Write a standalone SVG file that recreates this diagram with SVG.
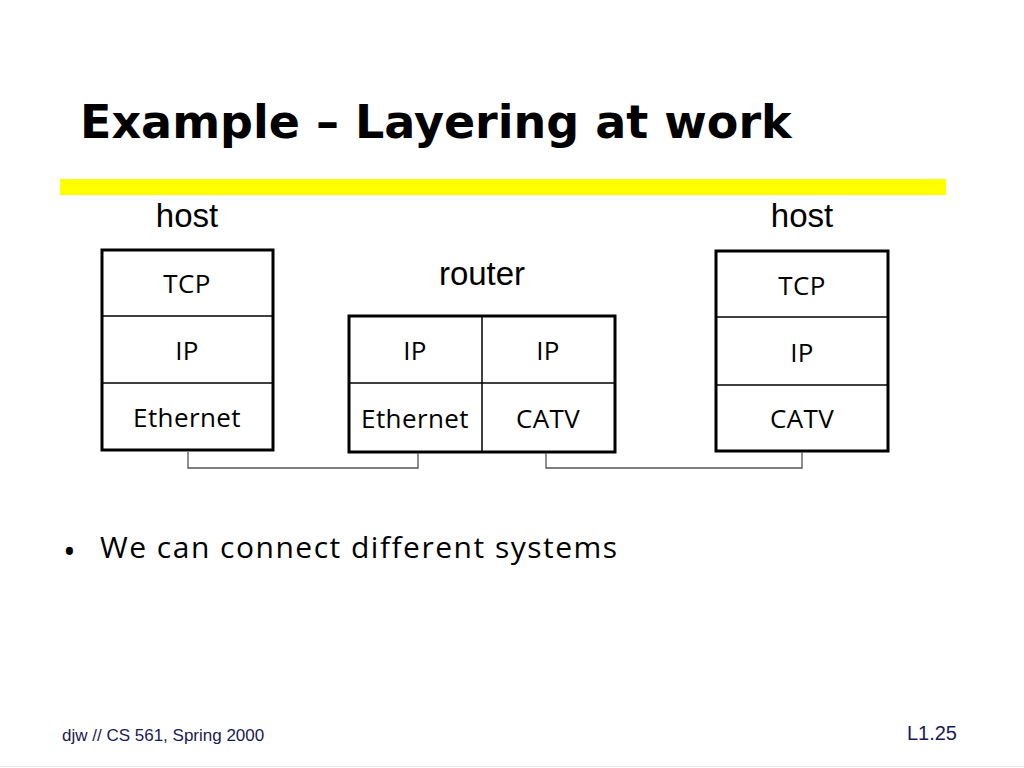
<svg xmlns="http://www.w3.org/2000/svg" width="1024" height="768" viewBox="0 0 1024 768">
<style>
.box{fill:#fff;stroke:#000;stroke-width:3}
.div{stroke:#000;stroke-width:1.5;fill:none}
.lbl{font-family:"Open Sans","Noto Sans",sans-serif;font-size:26px;letter-spacing:0.4px;fill:#000;text-anchor:middle}
.cap{font-family:"Liberation Sans",Arial,sans-serif;font-size:33px;fill:#000;text-anchor:middle}
.conn{stroke:#555;stroke-width:1.3;fill:none}
.foot{font-family:"Liberation Sans",Arial,sans-serif;fill:#1a1a55}
</style>
<rect width="1024" height="768" fill="#fff"/>
<text x="80" y="138" font-family="DejaVu Sans,Verdana,sans-serif" font-weight="bold" font-size="46" fill="#000">Example – Layering at work</text>
<rect x="60" y="179" width="886" height="16" fill="#ffff00"/>
<g id="host-left">
<text class="cap" x="187" y="227">host</text>
<rect class="box" x="102" y="250" width="171" height="200"/>
<line class="div" x1="102" y1="316" x2="273" y2="316"/>
<line class="div" x1="102" y1="383" x2="273" y2="383"/>
<text class="lbl" x="187" y="293">TCP</text>
<text class="lbl" x="187" y="360">IP</text>
<text class="lbl" x="187" y="427">Ethernet</text>
</g>
<g id="router">
<text class="cap" x="482" y="285">router</text>
<rect class="box" x="349" y="316" width="266" height="136"/>
<line class="div" x1="482" y1="316" x2="482" y2="452"/>
<line class="div" x1="349" y1="383" x2="615" y2="383"/>
<text class="lbl" x="415" y="360">IP</text>
<text class="lbl" x="548" y="360">IP</text>
<text class="lbl" x="415" y="428">Ethernet</text>
<text class="lbl" x="548" y="428">CATV</text>
</g>
<g id="host-right">
<text class="cap" x="802" y="227">host</text>
<rect class="box" x="716" y="251" width="172" height="200"/>
<line class="div" x1="716" y1="317" x2="888" y2="317"/>
<line class="div" x1="716" y1="385" x2="888" y2="385"/>
<text class="lbl" x="802" y="295">TCP</text>
<text class="lbl" x="802" y="362">IP</text>
<text class="lbl" x="802" y="428">CATV</text>
</g>
<g id="connectors">
<polyline class="conn" points="188,452 188,468 418,468 418,453"/>
<polyline class="conn" points="546,453 546,468 802,468 802,452"/>
</g>
<text x="63" y="564" font-family="Open Sans,Noto Sans,sans-serif" font-size="34" fill="#000">•</text>
<text x="100" y="558" font-family="Open Sans,Noto Sans,sans-serif" font-size="30" letter-spacing="1.5" fill="#000">We can connect different systems</text>
<text class="foot" x="62" y="741" font-size="17">djw // CS 561, Spring 2000</text>
<text class="foot" x="957" y="740" font-size="20" text-anchor="end">L1.25</text>
<line x1="0" y1="766.5" x2="1024" y2="766.5" stroke="#e6e6e6" stroke-width="1"/>
</svg>
